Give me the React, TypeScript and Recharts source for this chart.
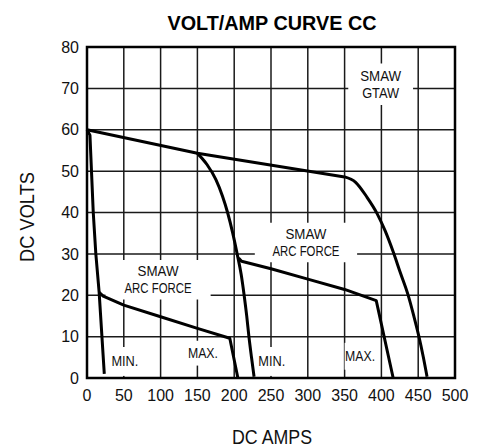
import React from 'react';
import { LineChart, Line, XAxis, YAxis, CartesianGrid, ReferenceArea } from 'recharts';

// amps / volts
const topLine = [{ x: 0, y: 60 }, { x: 150, y: 54.3 }, { x: 350, y: 48.6 }];
const outerCurve = [
  { x: 350, y: 48.6 }, { x: 365, y: 47.3 }, { x: 380, y: 43.8 }, { x: 394, y: 39.8 },
  { x: 405, y: 35.6 }, { x: 416, y: 30.5 }, { x: 426, y: 25.3 }, { x: 436, y: 20.2 },
  { x: 444, y: 15 }, { x: 451, y: 10 }, { x: 457, y: 5 }, { x: 462, y: 0.3 },
];
const innerCurve = [
  { x: 150, y: 54.3 }, { x: 163, y: 51.6 }, { x: 175, y: 48 }, { x: 184, y: 44 },
  { x: 191, y: 40 }, { x: 198, y: 35 }, { x: 204, y: 30 }, { x: 209.5, y: 25 },
  { x: 213.5, y: 20 }, { x: 217, y: 15 }, { x: 220, y: 10 }, { x: 223.5, y: 5 },
  { x: 227, y: 0.3 },
];
const minSteep = [
  { x: 0, y: 60 }, { x: 4, y: 58.7 }, { x: 8.5, y: 40 }, { x: 12, y: 30 },
  { x: 16.5, y: 20.7 }, { x: 23.5, y: 1 },
];
const lowArcForce = [
  { x: 16.5, y: 20.7 }, { x: 22, y: 19.8 }, { x: 36, y: 18.7 }, { x: 50, y: 17.6 },
  { x: 100, y: 14.8 }, { x: 150, y: 12 }, { x: 194, y: 9.6 }, { x: 205, y: 0 },
];
const highArcForce = [
  { x: 206, y: 29 }, { x: 210, y: 28.2 }, { x: 250, y: 26.4 }, { x: 300, y: 23.9 },
  { x: 350, y: 21.4 }, { x: 393, y: 18.7 }, { x: 416, y: 0 },
];

const ampTicks = [0, 50, 100, 150, 200, 250, 300, 350, 400, 450, 500];
const voltTicks = [0, 10, 20, 30, 40, 50, 60, 70, 80];

const notes = [
  { lines: ['SMAW', 'GTAW'], x1: 355, x2: 443, y1: 66, y2: 76 },
  { lines: ['SMAW', 'ARC FORCE'], x1: 228, x2: 367, y1: 28, y2: 37.5 },
  { lines: ['SMAW', 'ARC FORCE'], x1: 25, x2: 168, y1: 19, y2: 28.5 },
  { lines: ['MIN.'], x1: 35, x2: 68, y1: 0.5, y2: 7.5 },
  { lines: ['MAX.'], x1: 138, x2: 177, y1: 3, y2: 9 },
  { lines: ['MIN.'], x1: 232, x2: 270, y1: 0.5, y2: 7.5 },
  { lines: ['MAX.'], x1: 350, x2: 392, y1: 2, y2: 8.5 },
];

// the reference font is a condensed grotesque, squeeze Arial to fit
const squeeze: Record<string, number> = { SMAW: 41, GTAW: 37, 'ARC FORCE': 67, 'MIN.': 27, 'MAX.': 30 };

const FONT = "'Liberation Sans', Arial, sans-serif";

const noteLabel = (lines: string[]) => (props: any) => {
  const { x, y, width, height } = props.viewBox;
  const cx = x + width / 2;
  const cy = y + height / 2;
  const lh = 17;
  const top = cy - ((lines.length - 1) * lh) / 2;
  return (
    <g>
      {lines.map((l, i) => (
        <text
          key={i}
          x={cx}
          y={top + i * lh}
          dy="0.36em"
          textAnchor="middle"
          fontFamily={FONT}
          fontSize={14}
          fill="#111"
          textLength={squeeze[l]}
          lengthAdjust="spacingAndGlyphs"
        >
          {l}
        </text>
      ))}
    </g>
  );
};

const curves: { data: { x: number; y: number }[]; type: 'linear' | 'monotone' }[] = [
  { data: topLine, type: 'linear' },
  { data: outerCurve, type: 'monotone' },
  { data: innerCurve, type: 'monotone' },
  { data: minSteep, type: 'linear' },
  { data: lowArcForce, type: 'linear' },
  { data: highArcForce, type: 'linear' },
];

export default function App() {
  return (
    <div style={{ position: 'absolute', left: 0, top: 0, width: 480, height: 447, background: '#fff' }}>
      <LineChart width={480} height={447} margin={{ top: 47, right: 25, bottom: 39, left: 47 }}>
        <CartesianGrid stroke="#1a1a1a" strokeWidth={1.5} />
        <XAxis
          type="number"
          dataKey="x"
          domain={[0, 500]}
          ticks={ampTicks}
          interval={0}
          axisLine={false}
          tickLine={false}
          height={30}
          tickMargin={6}
          tick={{ fill: '#111', fontSize: 16, fontFamily: FONT }}
        />
        <YAxis
          type="number"
          dataKey="y"
          domain={[0, 80]}
          ticks={voltTicks}
          interval={0}
          axisLine={false}
          tickLine={false}
          width={40}
          tick={{ fill: '#111', fontSize: 16, fontFamily: FONT }}
        />
        {notes.map((n, i) => (
          <ReferenceArea
            key={i}
            x1={n.x1}
            x2={n.x2}
            y1={n.y1}
            y2={n.y2}
            fill="#fff"
            fillOpacity={1}
            stroke="none"
            label={noteLabel(n.lines)}
          />
        ))}
        {curves.map((c, i) => (
          <Line
            key={i}
            data={c.data}
            dataKey="y"
            type={c.type}
            stroke="#000"
            strokeWidth={3}
            strokeLinejoin="round"
            dot={false}
            isAnimationActive={false}
          />
        ))}
        <ReferenceArea x1={0} x2={500} y1={0} y2={80} fill="none" stroke="#000" strokeWidth={2.5} />
        <text x={272} y={23} textAnchor="middle" dominantBaseline="central" fontFamily={FONT} fontWeight="bold" fontSize={20} textLength={209} lengthAdjust="spacingAndGlyphs" fill="#000">
          VOLT/AMP CURVE CC
        </text>
        <text x={272} y={437} textAnchor="middle" dominantBaseline="central" fontFamily={FONT} fontSize={20} textLength={80} lengthAdjust="spacingAndGlyphs" fill="#111">
          DC AMPS
        </text>
        <text x={27} y={217} textAnchor="middle" dominantBaseline="central" fontFamily={FONT} fontSize={20} textLength={90} lengthAdjust="spacingAndGlyphs" fill="#111" transform="rotate(-90 27 217)">
          DC VOLTS
        </text>
      </LineChart>
    </div>
  );
}
